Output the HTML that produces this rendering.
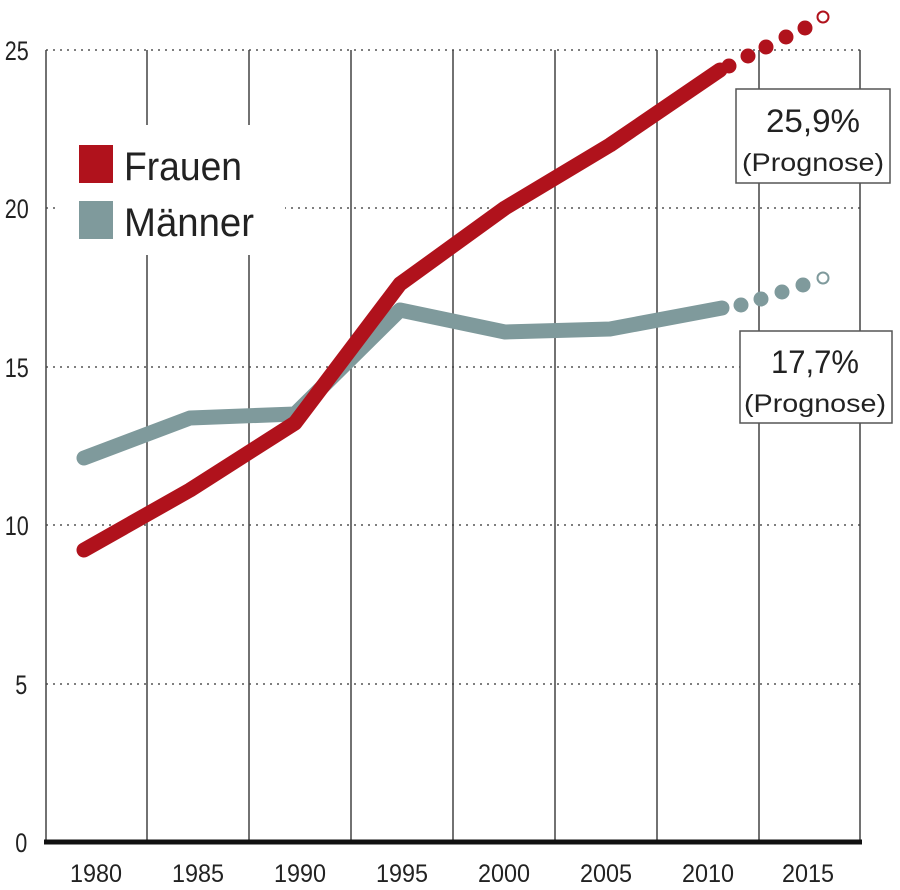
<!DOCTYPE html>
<html><head><meta charset="utf-8"><style>
html,body{margin:0;padding:0;background:#fff;}
svg{display:block;font-family:"Liberation Sans",sans-serif;}
</style></head><body>
<svg width="900" height="890" viewBox="0 0 900 890" xmlns="http://www.w3.org/2000/svg">
<rect width="900" height="890" fill="#fff"/>
<g stroke="#333" stroke-width="1.2" stroke-dasharray="2,5">
<line x1="46" y1="50" x2="860" y2="50"/>
<line x1="46" y1="208" x2="860" y2="208"/>
<line x1="46" y1="367" x2="860" y2="367"/>
<line x1="46" y1="525" x2="860" y2="525"/>
<line x1="46" y1="684" x2="860" y2="684"/>
</g>
<g stroke="#444" stroke-width="1.5">
<line x1="46" y1="50" x2="46" y2="842"/>
<line x1="147" y1="50" x2="147" y2="842"/>
<line x1="249" y1="50" x2="249" y2="842"/>
<line x1="351" y1="50" x2="351" y2="842"/>
<line x1="453" y1="50" x2="453" y2="842"/>
<line x1="555" y1="50" x2="555" y2="842"/>
<line x1="657" y1="50" x2="657" y2="842"/>
<line x1="759" y1="50" x2="759" y2="842"/>
<line x1="860" y1="50" x2="860" y2="842"/>
</g>
<rect x="60" y="125" width="225" height="130" fill="#fff"/>
<line x1="44" y1="842" x2="862" y2="842" stroke="#111" stroke-width="5"/>
<g font-size="27" fill="#222" transform="scale(0.8,1)">
<text x="6" y="60">25</text><text x="6" y="218">20</text><text x="6" y="377">15</text>
<text x="6" y="535">10</text><text x="19" y="694">5</text><text x="19" y="852">0</text>
</g>
<g font-size="25" fill="#222" text-anchor="middle">
<text x="96" y="882" textLength="52" lengthAdjust="spacingAndGlyphs">1980</text>
<text x="198" y="882" textLength="52" lengthAdjust="spacingAndGlyphs">1985</text>
<text x="300" y="882" textLength="52" lengthAdjust="spacingAndGlyphs">1990</text>
<text x="402" y="882" textLength="52" lengthAdjust="spacingAndGlyphs">1995</text>
<text x="504" y="882" textLength="52" lengthAdjust="spacingAndGlyphs">2000</text>
<text x="606" y="882" textLength="52" lengthAdjust="spacingAndGlyphs">2005</text>
<text x="708" y="882" textLength="52" lengthAdjust="spacingAndGlyphs">2010</text>
<text x="808" y="882" textLength="52" lengthAdjust="spacingAndGlyphs">2015</text>
</g>
<polyline points="84,458 190,418 295,414 400,310 505,332 610,329 722,308" fill="none" stroke="#7f9a9c" stroke-width="15" stroke-linejoin="round" stroke-linecap="round"/>
<g fill="#7f9a9c"><circle cx="741" cy="305" r="7.5"/><circle cx="761" cy="299" r="7.5"/><circle cx="782" cy="292" r="7.5"/><circle cx="803" cy="285" r="7.5"/></g>
<circle cx="823" cy="278" r="5.5" fill="#fff" stroke="#7f9a9c" stroke-width="2"/>
<polyline points="84,550 190,490 295,423 400,284 505,208 610,145 720,70" fill="none" stroke="#b0121c" stroke-width="15" stroke-linejoin="round" stroke-linecap="round"/>
<g fill="#b0121c"><circle cx="729" cy="66" r="7.5"/><circle cx="748" cy="56" r="7.5"/><circle cx="766" cy="47" r="7.5"/><circle cx="786" cy="37" r="7.5"/><circle cx="805" cy="28" r="7.5"/></g>
<circle cx="823" cy="17" r="5.5" fill="#fff" stroke="#b0121c" stroke-width="2"/>
<rect x="79" y="145" width="34" height="38" fill="#b0121c"/>
<rect x="79" y="201" width="34" height="38" fill="#7f9a9c"/>
<text x="124" y="180" font-size="40" fill="#222" textLength="118" lengthAdjust="spacingAndGlyphs">Frauen</text>
<text x="124" y="236" font-size="40" fill="#222" textLength="130" lengthAdjust="spacingAndGlyphs">Männer</text>
<rect x="736" y="89" width="154" height="94" fill="#fff" stroke="#555" stroke-width="1.5"/>
<text x="813" y="132" font-size="32" fill="#222" text-anchor="middle" textLength="94" lengthAdjust="spacingAndGlyphs">25,9%</text>
<text x="813" y="171" font-size="25" fill="#222" text-anchor="middle" textLength="142" lengthAdjust="spacingAndGlyphs">(Prognose)</text>
<rect x="740" y="331" width="152" height="92" fill="#fff" stroke="#555" stroke-width="1.5"/>
<text x="815" y="373" font-size="32" fill="#222" text-anchor="middle" textLength="88" lengthAdjust="spacingAndGlyphs">17,7%</text>
<text x="815" y="412" font-size="25" fill="#222" text-anchor="middle" textLength="142" lengthAdjust="spacingAndGlyphs">(Prognose)</text>
</svg>
</body></html>
